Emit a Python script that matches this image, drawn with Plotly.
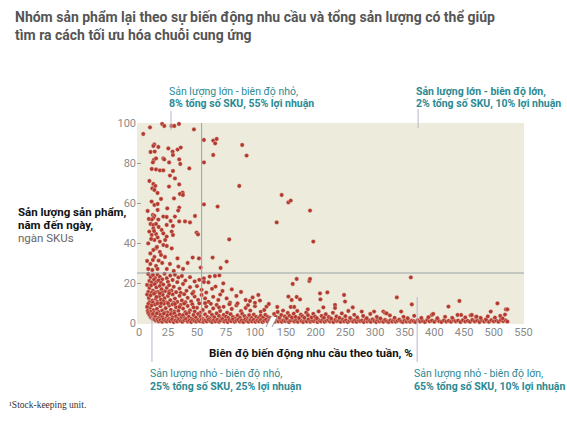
import plotly.graph_objects as go

# ---------------- data ----------------
# upper scatter, y > 25
upper_x = [3.7, 9.5, 20, 21.8, 28, 30.5, 34.5, 47.4, 13.2, 12.4, 16.7, 10, 13.6, 25.3, 29, 33.3, 36, 29.3, 21, 21.8,
           12.9, 14.7, 12, 26, 34.7, 35.6, 43.4, 14.7, 18.1, 21, 29.3, 26.7, 31, 12.4, 14.1, 11.5, 13.3, 25.9, 34.7, 37.6,
           35.3, 37.9, 30.2, 10.9, 13.3, 16.1, 24.4, 34.7, 33.8, 16.1, 12, 13.3, 21, 23.9, 31, 12.4, 11, 16.7, 10, 12.4,
           14.7, 27.3, 34.7, 39.7, 44, 48.3, 12.4, 23.9, 29.3, 19.5, 8.9, 11, 14.7, 21, 28.2, 29.3, 49.7, 50.9, 16.1, 23.9,
           13.3, 18, 22.6, 8, 21, 24, 14.7, 12.4, 28.2, 9.8, 18, 33.2, 13.3, 22.4, 46.3, 51.7, 63.5, 75.6, 12, 17,
           26.7, 34, 9.8, 14.7, 53.2, 70.4, 56, 64, 67, 65.7, 89, 92.8, 64, 56, 86.5, 56, 67.8, 77.8,
           134.3, 142.7, 154, 158, 190.5, 196,
           7.5, 9, 11, 16, 19, 8.5, 10.5, 15.5, 19, 11.5, 16, 20, 24, 30, 38, 42, 7, 8, 13, 17]
upper_y = [94.5, 97.8, 99.5, 98.5, 98.5, 98.5, 99.5, 96.8, 89.3, 88.5, 88, 85.5, 85.7, 87.3, 85.7, 86.7, 87.7, 84, 82.3, 81.8,
           81.5, 82.3, 80.3, 80.3, 81.8, 79.5, 77.3, 76.8, 76.3, 76.3, 76, 73.7, 72.3, 69.5, 68.5, 67.3, 66.5, 68.2, 69.3, 65.2,
           64.5, 64, 62.3, 60.7, 59, 59.5, 57.3, 57.7, 56.2, 56.5, 54, 53.5, 53.2, 53, 53.2, 52.5, 51.7, 51.7, 49.5, 49,
           49.5, 51, 50.8, 50.8, 50.3, 53.5, 47.3, 49, 48.5, 46.5, 45.7, 44, 44.5, 44.8, 45.7, 44, 45.2, 44.3, 42.8, 43.2,
           41.5, 40.7, 41.5, 39.8, 39, 38.5, 37.3, 36.5, 37.3, 34.8, 35.5, 32.3, 33, 33, 32.7, 32.3, 32.7, 30.7, 31.5, 31.2,
           29.5, 28.2, 29.5, 28.5, 27.7, 27.5, 91.5, 91.2, 92, 89.8, 89, 83.7, 84, 80.3, 68.5, 59.3, 58.2, 41.8,
           50.3, 64, 60.3, 61.2, 56.2, 40.7,
           56, 71, 77, 65, 62, 52, 42, 38, 34, 26.5, 27, 30, 27, 26, 27, 30, 31, 27, 46, 48]

# dense cloud, 5 < y < 25, left part
cloud_x = [8, 10, 12, 14, 16, 18, 20, 22, 24, 27, 29, 31, 34, 37, 40, 44, 48, 9, 11, 13, 15, 17, 19, 25, 33, 52, 56, 61, 65.5,
           69.3, 59.9, 72.7, 56,
           7, 9, 10.5, 12, 13.5, 15, 16.5, 18, 19.5, 21, 22.5, 24, 26, 28, 30, 32, 35, 38, 41, 44, 47, 50, 54, 58, 63, 8, 11,
           14, 20, 26, 36,
           7, 8.5, 10, 11.5, 13, 14.5, 16, 17.5, 19, 20.5, 22, 23.5, 25, 27, 29, 31, 33, 35, 37, 39, 42, 45, 48, 51, 54, 57,
           60, 64, 68.4, 75.6, 78.5, 92, 95.7, 102.9, 104.3, 9, 12, 15, 18, 21, 26, 30, 40, 46, 70, 84,
           8, 9.5, 11, 12.5, 14, 15.5, 17, 18.5, 20, 21.5, 23, 24.5, 26, 27.5, 29, 30.5, 32, 34, 36, 38, 40, 42, 44, 46, 48,
           50, 52, 55, 58, 61, 64, 67, 70, 73, 76, 80, 84, 88, 92, 96, 100, 105, 110, 10, 13, 16, 19, 22, 25, 28, 31, 35,
           39, 43, 47, 53, 57, 62, 69, 78,
           108, 112, 98, 88, 80, 85, 94, 100, 72, 66]
cloud_y = [24.5, 23, 24, 22.5, 24.2, 23.1, 21.8, 24.6, 22.4, 23.7, 21.5, 24.1, 22.8, 23.5, 21.2, 22.9, 20.8, 21, 20.3, 21.7,
           20.5, 21.3, 20.1, 20.6, 20.4, 21.6, 22.3, 23.2, 23.5, 23.8, 20.3, 19.8, 20.5,
           19, 17.5, 18.8, 16.2, 19.4, 17.8, 15.6, 18.5, 16.9, 19.2, 15.9, 17.6, 18.9, 16.3, 18.1, 15.4, 17.2, 19.5, 16.1,
           17.9, 15.5, 18.4, 16.6, 15.2, 17.1, 15.5, 15.1, 15.3, 15.2, 15.8, 15.1,
           14.2, 12.5, 13.8, 11.2, 14.6, 12.1, 10.6, 13.3, 11.7, 14.1, 12.4, 10.3, 13.5, 11.4, 14.3, 12.2, 10.5, 13.6, 11.3,
           14.4, 12.6, 10.8, 13.2, 11.5, 14, 12.3, 10.6, 13.1, 11.5, 12.3, 10.2, 11.5, 11, 14, 11.2, 10.4, 10.2, 13, 14.8,
           10.9, 14.9, 10.1, 10.4, 14.7, 14.2, 13.5,
           9.5, 7.5, 8.8, 6.4, 9.2, 7.1, 5.5, 8.4, 6.2, 9.6, 7.4, 5.3, 8.7, 6.6, 9.3, 5.8, 7.9, 6.1, 9.1, 7.2, 5.4, 8.5, 6.3,
           9.4, 5.7, 7.6, 9.8, 6.5, 8.2, 5.5, 7.3, 9, 6, 8.1, 5.2, 7, 8.8, 5.9, 7.5, 6.2, 8.4, 5.6, 8.2, 5.6, 5.1, 9.8, 9.9,
           5.2, 9.9, 5, 9.5, 8, 9.7, 5.1, 7.8, 5.2, 9.9, 9.6, 7.8, 9.4,
           6.5, 9.5, 12.8, 15.5, 16.8, 9.8, 8.9, 10.1, 16, 18.2]

# low band, 2 < y < 5
low_x = [7, 7.5, 8, 9, 10, 11, 12, 12, 14, 15.5, 17, 18.5, 20, 21.5, 23, 24.5, 26, 27.5, 29, 30.5, 32, 33.5, 35, 36.5,
         38, 39.5, 41, 43, 45, 47, 49, 51, 53, 55, 57, 59, 61, 63, 65, 67, 69, 71, 73, 75, 77, 79, 81, 83, 85, 87, 89,
         91, 93, 95, 97, 99, 101, 103, 105, 107, 109, 111, 113]
low_y = [8, 6, 5, 4, 3, 2.5, 2, 4.5, 3.2, 4.8, 2.6, 4.1, 3, 4.7, 2.3, 3.8, 2.1, 4.4, 2.9, 4.9, 3.4, 2.2, 4.2, 2.7,
         3.9, 2.4, 4.6, 3.1, 2.2, 4, 2.8, 4.5, 3.3, 2.1, 4.3, 3, 2.4, 4.1, 2.9, 4.8, 3.5, 2.3, 4, 3.2, 2.5, 4.4, 3, 2.2,
         3.8, 2.7, 4.6, 3.4, 2.3, 3.9, 2.6, 4.2, 3.1, 2.4, 3.7, 2.8, 4.1, 3, 2.5]

# bottom row, y < 2
bottom_x = [13, 14.5, 16, 17, 18.5, 20, 21, 22.5, 24, 25.5, 27, 28.5, 30, 31.5, 33, 34.5, 36, 37.5, 39, 40.5, 42, 43.5,
            45, 46.5, 48, 49.5, 51, 52.5, 54, 55.5, 57, 58.5, 60, 61.5, 63, 64.5, 66, 67.5, 69, 70.5, 72, 73.5, 75, 76.5,
            78, 79.5, 81, 82.5, 84, 85.5, 87, 88.5, 90, 91.5, 93, 94.5, 96, 97.5, 99, 100.5, 102, 103.5, 105, 106.5, 108,
            109.5, 111, 112.5,
            128, 131, 134, 137, 140, 143, 146, 149, 152, 155, 158, 161, 164, 167, 170, 173, 176, 179, 182, 185, 188, 191,
            194, 197, 200, 203, 206, 209, 212, 215, 218, 221, 224, 227, 230, 233, 236, 239, 242, 245, 248, 251, 254, 257,
            260, 263, 266, 269, 272, 275, 278, 281, 284, 287, 290, 293, 296, 299, 302, 305, 308, 311, 314, 317, 320, 323,
            326, 329, 332, 335, 338, 341, 344, 347, 350, 353, 356, 359, 362, 365, 368, 372, 376, 380, 384, 388, 392, 396,
            400, 404, 408, 412, 416, 420, 424, 428, 432, 436, 440, 444, 448, 452, 456, 460, 464, 468, 472, 476, 480, 484,
            488, 492, 496, 500, 504, 508, 512, 516, 520, 523]
bottom_y = [1.8, 1.2, 1.6, 0.8, 1.4, 0.6, 1.9, 1.1, 0.7, 1.5, 0.9, 1.8, 0.5, 1.3, 0.8, 1.7, 1, 0.6, 1.4, 1.9, 0.7, 1.2,
            0.5, 1.6, 1, 0.7, 1.5, 0.9, 1.8, 0.6, 1.3, 0.8, 1.7, 1, 0.5, 1.4, 0.8, 1.6, 0.6, 1.2, 1.9, 0.7, 1.3, 0.5,
            1.5, 0.9, 1.8, 0.6, 1.1, 1.6, 0.7, 1.3, 0.5, 1.7, 1, 0.6, 1.4, 0.8, 1.6, 0.6, 1.2, 0.8, 1.5, 0.5, 1.1,
            1.7, 0.7, 1.3,
            1.2, 0.6, 1.5, 0.8, 1.8, 0.6, 1.3, 0.9, 1.6, 0.5, 1.2, 1.9, 0.7, 1.4, 0.6, 1.7, 1, 0.5, 1.4, 0.8, 1.8, 0.6,
            1.2, 0.9, 1.6, 0.5, 1.3, 0.8, 1.7, 0.6, 1.1, 1.5, 0.7, 1.3, 0.5, 1.6, 0.9, 1.2, 0.6, 1.8, 0.8, 1.4, 0.5, 1.1,
            1.7, 0.7, 1.3, 0.6, 1.5, 0.9, 1.2, 0.5, 1.6, 0.8, 1.3, 0.6, 1.8, 1, 0.5, 1.4, 0.8, 1.2, 0.6, 1.6, 0.9, 0.5,
            1.3, 0.7, 1.5, 0.6, 1.1, 1.7, 0.8, 0.5, 1.3, 0.7, 1.6, 0.6, 1.2, 0.9, 0.5, 1.4, 0.7, 1.1, 0.5, 1.5, 0.8, 1.2,
            0.6, 1.6, 0.9, 0.5, 1.3, 0.7, 1.1, 0.6, 1.5, 0.8, 1.2, 0.5, 1.4, 0.7, 1.1, 0.6, 1.5, 0.8, 1.2, 0.5, 1.3, 0.7,
            1.1, 0.6, 1.4, 0.8, 1.2, 0.6, 1.5, 0.9, 1.3, 0.7]

# scattered points, right part below 25
right_x = [168, 161.3, 189.3, 190.5, 360.3, 154, 168, 159.6, 173.6, 207.3, 219.7, 208, 247.8, 249.5, 232.6, 232.6, 212.9,
           135.3, 158, 163.8, 186.6, 262.5, 255, 277.6, 298.4, 314, 317, 336.7, 344, 362, 395.7, 398, 423.7, 442.2, 445,
           461, 470, 495, 506.3, 520.5, 523, 319.5, 439, 463, 471, 487,
           130, 133, 136, 139, 142, 145, 148, 151, 153, 156, 160, 163, 166, 169, 172, 175, 178, 181, 184, 187, 193, 196,
           199, 202, 205, 210, 214, 217, 222, 226, 229, 235, 240, 244, 250, 258, 265, 270, 280, 286, 292, 303, 309, 325,
           333, 348, 355, 366, 378, 390, 405, 418, 430, 452, 478, 490, 502, 511, 515, 519]
right_y = [22, 19.5, 21, 22, 22.8, 13.2, 13, 11.5, 11.8, 14.8, 15.3, 11.8, 14, 10.7, 9, 7.5, 7.8,
           8, 8, 8, 6.8, 7.8, 6, 5.7, 5.7, 5.7, 5, 12.8, 5.7, 9.3, 4, 4.5, 8.2, 11, 4,
           3.8, 3, 5.7, 9.8, 6.8, 6.8, 4.8, 4, 4, 3.2, 1.8,
           4.5, 3, 5.5, 2.7, 4, 6.2, 3.3, 2.4, 5, 3.6, 2.8, 4.7, 3.1, 6, 2.5, 4.2, 3.4, 2.6, 5.2, 3.9, 2.8, 4.6,
           3.2, 2.4, 5.8, 3.5, 2.7, 4.4, 3, 2.3, 5.1, 3.3, 2.6, 4.8, 3.4, 2.5, 4.1, 2.8, 3.5, 2.4, 4.5, 3, 2.3, 3.8,
           2.6, 3.1, 2.4, 3.6, 2.5, 2.9, 2.4, 3.1, 2.6, 2.8, 2.5, 3.3, 2.7, 3.5, 2.3, 4.2]

x_ticks_left = [0, 25, 50, 75, 100]
x_ticks_right = [150, 200, 250, 300, 350, 400, 450, 500, 550]
y_ticks = [0, 20, 40, 60, 80, 100]
y_split = 25       # horizontal threshold
x_split = 54       # vertical threshold
break_at = 120     # axis break between 100 and 150

# ---------------- figure ----------------
all_x = upper_x + cloud_x + low_x + bottom_x + right_x
all_y = upper_y + cloud_y + low_y + bottom_y + right_y
lx = [x for x, y in zip(all_x, all_y) if x < break_at]
ly = [y for x, y in zip(all_x, all_y) if x < break_at]
rx = [x for x, y in zip(all_x, all_y) if x >= break_at]
ry = [y for x, y in zip(all_x, all_y) if x >= break_at]

W, H = 567, 429
L, R, T, B = 137, 524, 123, 324
pw, ph = R - L, B - T
def px(xp):
    return (xp - L) / pw
def py(yp):
    return (B - yp) / ph

split = px(272)
mk = dict(size=4.3, color="#b3382d", line=dict(width=0.4, color="rgba(245,225,210,0.9)"))

fig = go.Figure()
fig.add_trace(go.Scatter(x=lx, y=ly, mode="markers", marker=mk, xaxis="x", yaxis="y",
                         cliponaxis=False, hoverinfo="skip"))
fig.add_trace(go.Scatter(x=rx, y=ry, mode="markers", marker=mk, xaxis="x2", yaxis="y",
                         cliponaxis=False, hoverinfo="skip"))

tickfont = dict(family="Roboto", size=11, color="#8a8a8a")
fig.update_layout(
    width=W, height=H,
    margin=dict(l=L, r=W - R, t=T, b=H - B, pad=0),
    paper_bgcolor="white", plot_bgcolor="#ecebdc",
    showlegend=False,
    xaxis=dict(domain=[0, split], range=[-1.7, 114.7], tickvals=x_ticks_left, showgrid=False,
               zeroline=False, showline=False, ticks="", tickfont=tickfont, anchor="y"),
    xaxis2=dict(domain=[split, 1], range=[126.4, 551], tickvals=x_ticks_right, showgrid=False,
                zeroline=False, showline=False, ticks="", tickfont=tickfont, anchor="y"),
    yaxis=dict(range=[-0.5, 100], tickvals=y_ticks, showgrid=False, zeroline=False, showline=False,
               ticks="inside", ticklen=4, tickcolor="#9a9a9a", tickfont=tickfont, anchor="x"),
)

line_c = "#9aa3a6"
lead_c = "#bdb4cc"
shapes = [
    dict(type="line", xref="paper", yref="y", x0=0, x1=1, y0=y_split, y1=y_split, line=dict(color=line_c, width=1)),
    dict(type="line", xref="x", yref="paper", x0=x_split, x1=x_split, y0=0, y1=1, line=dict(color=line_c, width=1)),
    # leader lines
    dict(type="line", xref="x", yref="paper", x0=27.6, x1=27.6, y0=py(111), y1=py(130), line=dict(color=lead_c, width=1)),
    dict(type="line", xref="x2", yref="paper", x0=372.6, x1=372.6, y0=py(109), y1=py(128), line=dict(color=lead_c, width=1)),
    dict(type="line", xref="x", yref="paper", x0=11.2, x1=11.2, y0=py(317), y1=py(362), line=dict(color=lead_c, width=1)),
    dict(type="line", xref="x2", yref="paper", x0=371, x1=371, y0=py(297), y1=py(362), line=dict(color=lead_c, width=1)),
    # axis break mark
    dict(type="path", xref="paper", yref="paper",
         path=f"M {px(266)},{py(327)} L {px(271)},{py(317)} L {px(277)},{py(317)} L {px(272)},{py(327)} Z",
         fillcolor="white", line=dict(width=0)),
    dict(type="line", xref="paper", yref="paper", x0=px(266), y0=py(327), x1=px(271), y1=py(317),
         line=dict(color="#999", width=1)),
    dict(type="line", xref="paper", yref="paper", x0=px(272), y0=py(327), x1=px(277), y1=py(317),
         line=dict(color="#999", width=1)),
]
fig.update_layout(shapes=shapes)

teal = "#2b8a93"
def ann(text, xp, yp, size, color, family="Roboto", xanchor="left"):
    return dict(text=text, x=px(xp), y=py(yp), xref="paper", yref="paper", showarrow=False,
                xanchor=xanchor, yanchor="middle", align="left",
                font=dict(family=family, size=size, color=color))

anns = [
    ann("<b>Nhóm sản phẩm lại theo sự biến động nhu cầu và tổng sản lượng có thể giúp</b>", 13, 17, 14, "#555555"),
    ann("<b>tìm ra cách tối ưu hóa chuỗi cung ứng</b>", 13, 35, 14, "#555555"),
    ann("<b>Sản lượng sản phẩm,</b>", 16, 212, 11.5, "#111111"),
    ann("<b>năm đến ngày,</b>", 16, 225, 11.5, "#111111"),
    ann("ngàn SKUs", 16, 238, 11.5, "#666666"),
    ann("<b>Biên độ biến động nhu cầu theo tuần, %</b>", 311, 353, 11.5, "#111111", xanchor="center"),
    ann("Sản lượng lớn - biên độ nhỏ,", 167, 91, 10.5, teal),
    ann("<b>8% tổng số SKU, 55% lợi nhuận</b>", 167, 103, 10.5, teal),
    ann("<b>Sản lượng lớn - biên độ lớn,</b>", 414, 91, 10.5, teal),
    ann("<b>2% tổng số SKU, 10% lợi nhuận</b>", 414, 103, 10.5, teal),
    ann("Sản lượng nhỏ - biên độ nhỏ,", 148, 373, 10.5, teal),
    ann("<b>25% tổng số SKU, 25% lợi nhuận</b>", 148, 386, 10.5, teal),
    ann("Sản lượng nhỏ - biên độ lớn,", 412, 373, 10.5, teal),
    ann("<b>65% tổng số SKU, 10% lợi nhuận</b>", 412, 386, 10.5, teal),
    ann("¹Stock-keeping unit.", 7, 405, 9.5, "#333333", family="Liberation Serif"),
]
fig.update_layout(annotations=anns)

fig.write_html("out.html")
